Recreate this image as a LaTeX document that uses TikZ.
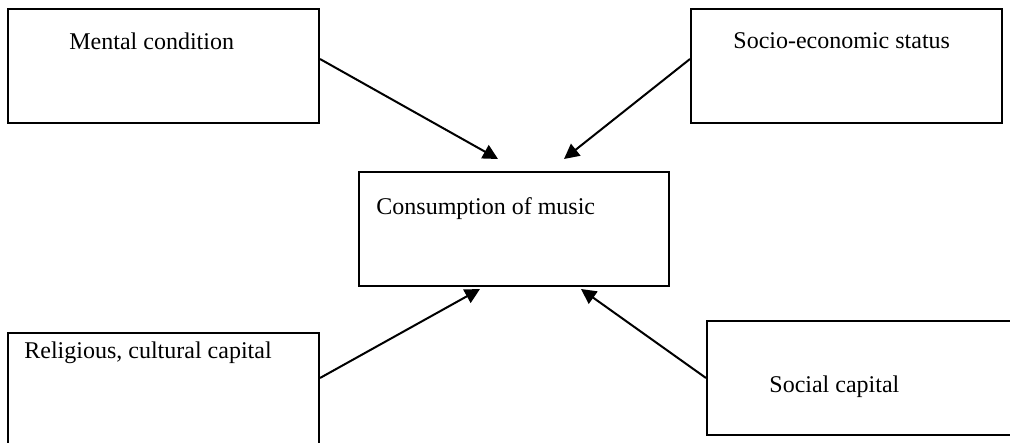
\documentclass[tikz,border=0pt]{standalone}
\usepackage{fontspec}
\setmainfont{Liberation Serif}
\usetikzlibrary{arrows.meta}
\tikzset{
  box/.style={draw=black, line width=1pt, minimum width=155.5pt, minimum height=57pt, inner sep=0pt},
  lbl/.style={anchor=base west, inner sep=0pt, font=\fontsize{12}{14}\selectfont},
  arr/.style={line width=1pt, -{Triangle[length=7.5pt,width=7.5pt]}}
}
\begin{document}
\begin{tikzpicture}[x=0.5pt,y=-0.5pt]
\useasboundingbox (0,0) rectangle (1010,443);
% boxes
\node[box] (mental) at (163.5,66) {};
\node[box] (socio) at (846.5,66) {};
\node[box, minimum width=155pt] (music) at (514,229) {};
\node[box] (relig) at (163.5,390) {};
\node[box] (social) at (862.5,378) {};
% texts
\node[lbl] (mentalt) at (69,50) {Mental condition};
\node[lbl] (sociot) at (733,49) {Socio-economic status};
\node[lbl] (musict) at (376,214) {Consumption of music};
\node[lbl] (feligt) at (24,358) {Religious, cultural capital};
\node[lbl] (socialt) at (769,392) {Social capital};
% arrow tips
\coordinate (tipa) at (498,159);
\coordinate (tipb) at (564,159);
\coordinate (tipc) at (480,289);
\coordinate (tipd) at (581,289);
\draw[arr] ([yshift=3.5pt]mental.east) -- (tipa);
\draw[arr] ([yshift=3.5pt]socio.west) -- (tipb);
\draw[arr] ([yshift=6pt]relig.east) -- (tipc);
\draw[arr] (social.west) -- (tipd);
\end{tikzpicture}
\end{document}
